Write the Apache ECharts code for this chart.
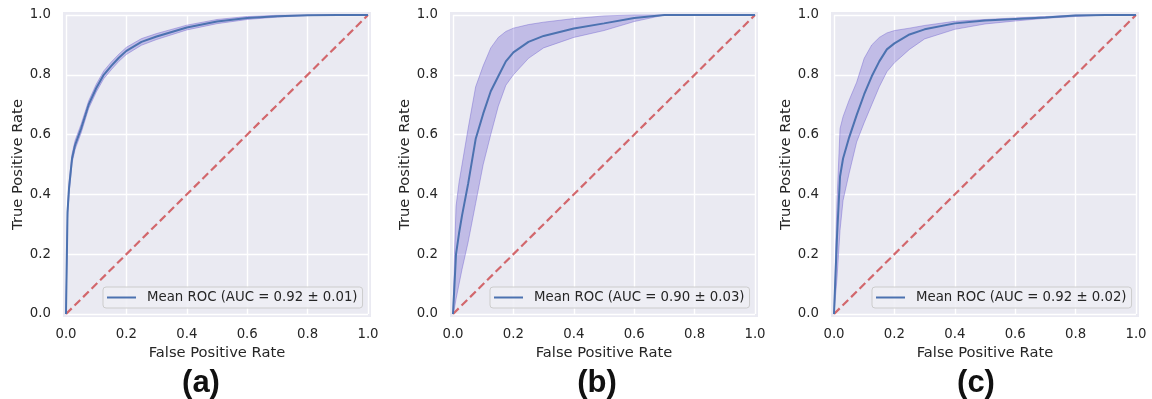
<!DOCTYPE html>
<html>
<head>
<meta charset="utf-8">
<script src="https://cdn.jsdelivr.net/npm/echarts@6/dist/echarts.min.js"></script>
<style>
  html, body { margin: 0; padding: 0; background: #ffffff; }
  #chart { width: 1152px; height: 399px; }
</style>
</head>
<body>
<div id="chart"></div>
<script>
// ---- data ----
const fpr = [0, 0.005, 0.01, 0.02, 0.03, 0.05, 0.075, 0.1, 0.125, 0.15, 0.175, 0.2, 0.25, 0.3, 0.4, 0.5, 0.6, 0.7, 0.8, 0.9, 1.0];

const meanA  = [0, 0.34, 0.42, 0.52, 0.565, 0.62, 0.70, 0.755, 0.80, 0.83, 0.857, 0.88, 0.91, 0.928, 0.958, 0.978, 0.99, 0.996, 0.999, 1, 1];
const upperA = [0, 0.36, 0.44, 0.535, 0.58, 0.635, 0.713, 0.768, 0.813, 0.843, 0.869, 0.892, 0.921, 0.938, 0.966, 0.985, 0.995, 0.999, 1, 1, 1];
const lowerA = [0, 0.32, 0.40, 0.505, 0.55, 0.605, 0.687, 0.742, 0.787, 0.817, 0.845, 0.868, 0.899, 0.918, 0.95, 0.971, 0.985, 0.993, 0.998, 1, 1];

const meanB  = [0, 0.10, 0.20, 0.27, 0.33, 0.435, 0.585, 0.67, 0.745, 0.795, 0.845, 0.875, 0.91, 0.93, 0.955, 0.972, 0.99, 1, 1, 1, 1];
const upperB = [0, 0.20, 0.36, 0.44, 0.50, 0.62, 0.76, 0.83, 0.89, 0.925, 0.945, 0.956, 0.968, 0.976, 0.988, 0.997, 1, 1, 1, 1, 1];
const lowerB = [0, 0.02, 0.05, 0.10, 0.15, 0.24, 0.37, 0.50, 0.60, 0.695, 0.765, 0.80, 0.855, 0.89, 0.925, 0.948, 0.978, 1, 1, 1, 1];

const meanC  = [0, 0.13, 0.26, 0.46, 0.52, 0.59, 0.665, 0.735, 0.795, 0.845, 0.885, 0.905, 0.935, 0.952, 0.972, 0.982, 0.987, 0.992, 0.998, 1, 1];
const upperC = [0, 0.20, 0.38, 0.62, 0.66, 0.715, 0.775, 0.855, 0.90, 0.925, 0.94, 0.948, 0.956, 0.965, 0.979, 0.985, 0.99, 0.995, 1, 1, 1];
const lowerC = [0, 0.06, 0.12, 0.28, 0.38, 0.47, 0.575, 0.64, 0.70, 0.76, 0.81, 0.84, 0.885, 0.92, 0.952, 0.97, 0.98, 0.989, 0.995, 1, 1];

const chance = [[0, 0], [1, 1]];
const legendNames = ['Mean ROC (AUC = 0.92 ± 0.01)', 'Mean ROC (AUC = 0.90 ± 0.03)', 'Mean ROC (AUC = 0.92 ± 0.02)'];
const panelLabels = ['(a)', '(b)', '(c)'];
const xTitle = 'False Positive Rate';
const yTitle = 'True Positive Rate';

// ---- layout ----
const FONT = 'DejaVu Sans';
const TXT = '#262626';
const gridLefts = [66, 453, 834];
const gridTop = 15, gridW = 302, gridH = 299;
const legendLefts = [103, 490, 872];
const captionX = [201, 597, 976];

const panels = [
  { mean: meanA, upper: upperA, lower: lowerA },
  { mean: meanB, upper: upperB, lower: lowerB },
  { mean: meanC, upper: upperC, lower: lowerC }
];

const grids = [], xAxes = [], yAxes = [], series = [], legends = [], graphics = [];

panels.forEach((p, i) => {
  grids.push({ left: gridLefts[i], top: gridTop, width: gridW, height: gridH, show: false });
  const axisCommon = {
    type: 'value', min: 0, max: 1, interval: 0.2, gridIndex: i,
    axisLine: { show: false }, axisTick: { show: false },
    splitLine: { show: true, lineStyle: { color: '#ffffff', width: 1.4 } },
    nameLocation: 'middle',
    nameTextStyle: { fontFamily: FONT, fontSize: 14.7, color: TXT },
    axisLabel: { fontFamily: FONT, fontSize: 13.3, color: TXT, formatter: v => v.toFixed(1) }
  };
  xAxes.push(Object.assign({}, axisCommon, { name: xTitle, nameGap: 32,
    axisLabel: Object.assign({}, axisCommon.axisLabel, { margin: 14 }) }));
  yAxes.push(Object.assign({}, axisCommon, { name: yTitle, nameGap: 38,
    axisLabel: Object.assign({}, axisCommon.axisLabel, { margin: 15 }) }));

  const bandData = fpr.map((x, k) => [x, p.lower[k], p.upper[k]]);
  series.push({
    type: 'custom', xAxisIndex: i, yAxisIndex: i, z: 1, silent: true,
    data: bandData,
    encode: { x: 0, y: [1, 2] },
    renderItem: (params, api) => {
      if (params.dataIndex !== 0) return;
      const top = bandData.map(d => api.coord([d[0], d[2]]));
      const bot = bandData.slice().reverse().map(d => api.coord([d[0], d[1]]));
      return {
        type: 'polygon',
        shape: { points: top.concat(bot) },
        style: { fill: 'rgba(106,90,205,0.32)', stroke: 'rgba(106,90,205,0.4)', lineWidth: 1 }
      };
    }
  });
  series.push({
    type: 'line', name: 'chance' + i, xAxisIndex: i, yAxisIndex: i, z: 2,
    data: chance, symbol: 'none', clip: false,
    lineStyle: { color: 'rgba(206,80,85,0.85)', width: 2.2, type: [8, 4] }
  });
  series.push({
    type: 'line', name: legendNames[i], xAxisIndex: i, yAxisIndex: i, z: 3,
    data: fpr.map((x, k) => [x, p.mean[k]]), symbol: 'none', clip: false,
    color: '#4C72B0',
    lineStyle: { color: '#4C72B0', width: 2 }
  });
  legends.push({
    data: [legendNames[i]], left: legendLefts[i], top: 287, orient: 'horizontal',
    icon: 'rect', itemWidth: 29, itemHeight: 2, padding: [4, 5, 4, 4],
    backgroundColor: 'rgba(238,238,244,0.85)', borderColor: '#cccccc', borderWidth: 1, borderRadius: 3,
    textStyle: { fontFamily: FONT, fontSize: 13.3, color: TXT, padding: [0, 0, 0, 6] },
    selectedMode: false
  });
  graphics.push({
    type: 'rect', z: -10,
    shape: { x: gridLefts[i] - 3, y: gridTop - 3, width: gridW + 6, height: gridH + 6 },
    style: { fill: '#EAEAF2' }
  });
  graphics.push({
    type: 'text', x: captionX[i], y: 383,
    style: { text: panelLabels[i], fill: '#111111', font: 'bold 31px "Liberation Sans", Arial, sans-serif',
             textAlign: 'center', textVerticalAlign: 'middle' }
  });
});

const chart = echarts.init(document.getElementById('chart'), null, { renderer: 'canvas' });
chart.setOption({
  animation: false,
  backgroundColor: '#ffffff',
  grid: grids, xAxis: xAxes, yAxis: yAxes,
  legend: legends,
  graphic: { elements: graphics },
  series: series
});
</script>
</body>
</html>
